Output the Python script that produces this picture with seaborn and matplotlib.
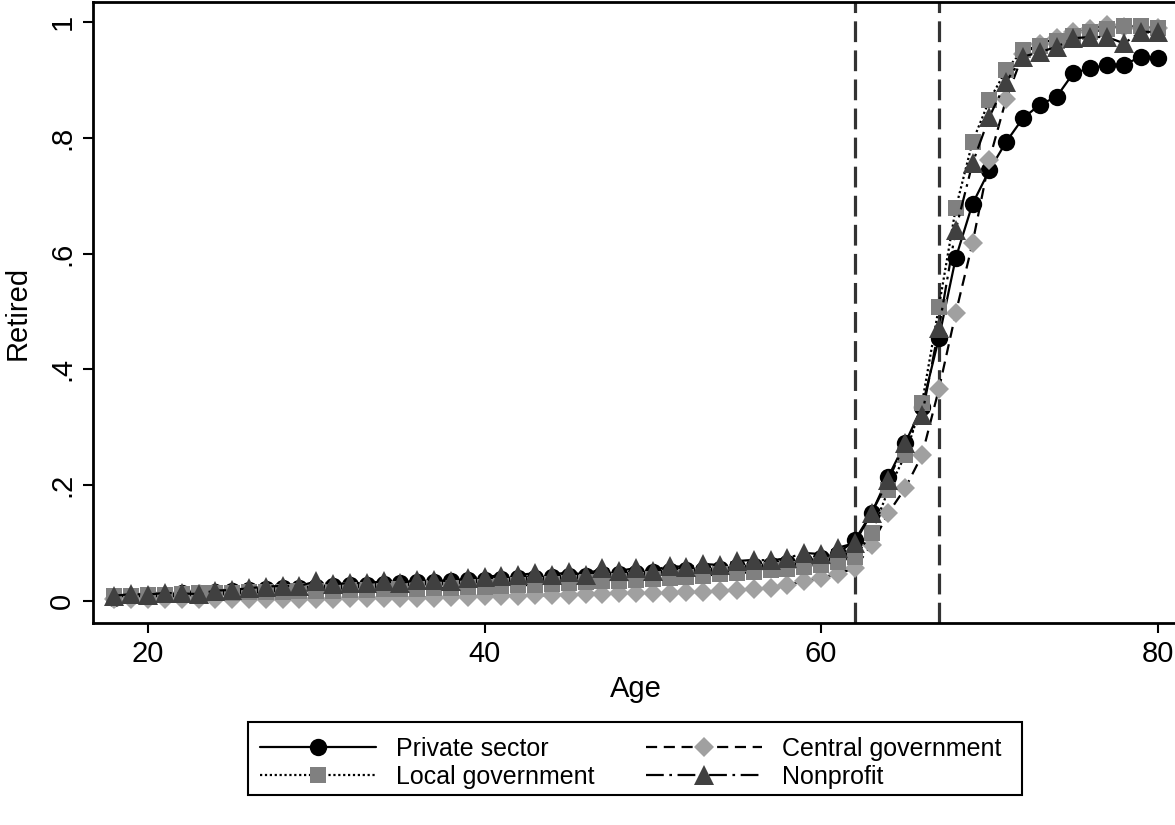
import numpy as np
import pandas as pd
import matplotlib
matplotlib.use("Agg")
import matplotlib.pyplot as plt
import seaborn as sns
from matplotlib.lines import Line2D
from matplotlib.patches import Rectangle

ages = list(range(18, 81))

private_sector = [
    .006, .008, .010, .011, .013, .014, .016, .017, .019, .020,
    .022, .023, .025, .026, .027, .028, .030, .031, .032, .033,
    .034, .036, .037, .038, .039, .040, .041, .043, .044, .046,
    .047, .048, .050, .051, .053, .054, .056, .058, .060, .062,
    .065, .069, .074, .082, .105, .152, .215, .273, .335, .454,
    .592, .686, .744, .793, .834, .857, .871, .912, .920, .926,
    .926, .940, .938]

central_government = [
    .004, .003, .004, .003, .003, .004, .003, .003, .004, .004,
    .004, .004, .004, .004, .005, .005, .005, .005, .006, .006,
    .007, .007, .008, .009, .009, .010, .010, .011, .012, .012,
    .013, .013, .014, .014, .015, .016, .017, .019, .020, .023,
    .028, .034, .040, .047, .057, .097, .152, .195, .252, .366,
    .497, .618, .762, .867, .945, .962, .972, .982, .988, .995,
    .992, .990, .990]

local_government = [
    .008, .009, .010, .011, .012, .013, .014, .014, .015, .016,
    .016, .017, .018, .018, .019, .019, .020, .021, .021, .022,
    .023, .024, .025, .026, .027, .028, .030, .031, .032, .034,
    .035, .037, .038, .040, .042, .044, .046, .048, .050, .053,
    .056, .059, .063, .068, .076, .117, .192, .252, .342, .508,
    .678, .793, .865, .917, .952, .958, .968, .975, .982, .988,
    .993, .993, .990]

nonprofit = [
    .009, .012, .011, .014, .013, .012, .018, .019, .022, .025,
    .026, .026, .034, .029, .031, .031, .034, .031, .036, .036,
    .034, .039, .042, .044, .045, .048, .045, .050, .045, .057,
    .052, .057, .052, .061, .058, .064, .062, .069, .071, .070,
    .074, .083, .081, .092, .100, .152, .209, .273, .321, .471,
    .641, .756, .836, .897, .940, .948, .957, .972, .974, .974,
    .963, .983, .983]

series_names = ["Private sector", "Central government", "Local government", "Nonprofit"]
series_values = [private_sector, central_government, local_government, nonprofit]
policy_ages = [62, 67]
x_ticks = [20, 40, 60, 80]
y_ticks = [0, .2, .4, .6, .8, 1]
y_tick_labels = ["0", ".2", ".4", ".6", ".8", "1"]

styles = {
    "Private sector": dict(color="#000000", marker="o", ms=12.5, ls="-"),
    "Central government": dict(color="#a0a0a0", marker="D", ms=10.5, ls=(0, (5, 3))),
    "Local government": dict(color="#808080", marker="s", ms=11, ls=(0, (1, 1.2))),
    "Nonprofit": dict(color="#404040", marker="^", ms=14.5, ls=(0, (8, 2.5, 1.2, 2.5))),
}

sns.set_theme(style="white")
plt.rcParams["font.family"] = ["Liberation Sans", "DejaVu Sans"]
plt.rcParams["text.color"] = "black"
plt.rcParams["axes.labelcolor"] = "black"
plt.rcParams["xtick.color"] = "black"
plt.rcParams["ytick.color"] = "black"

fig = plt.figure(figsize=(11.75, 8.25), dpi=100)
ax = fig.add_axes([93 / 1175, 1 - 623 / 825, (1179 - 93) / 1175, (623 - 2) / 825])

for a in policy_ages:
    ax.axvline(a, color="#333333", lw=2.3, ls=(0, (6.5, 2.6)), zorder=1)

handles = {}
for i, (name, vals) in enumerate(zip(series_names, series_values)):
    st = styles[name]
    df = pd.DataFrame({"Age": ages, "Retired": vals})
    sns.lineplot(data=df, x="Age", y="Retired", ax=ax, color="#000000",
                 lw=1.6, linestyle=st["ls"], marker=st["marker"],
                 markersize=st["ms"], markerfacecolor=st["color"],
                 markeredgewidth=0, zorder=2 + i)
    handles[name] = Line2D([], [], color="#000000", lw=1.6, linestyle=st["ls"],
                           marker=st["marker"], markersize=st["ms"],
                           markerfacecolor=st["color"], markeredgewidth=0)

ax.set_xlim(16.73, 81.27)
ax.set_ylim(-0.038, 1.0345)
ax.set_xticks(x_ticks)
ax.set_xticklabels([str(t) for t in x_ticks])
ax.set_yticks(y_ticks)
ax.set_yticklabels(y_tick_labels, rotation=90, va="center")
ax.tick_params(axis="both", direction="out", length=7, width=1.5, color="black",
               labelsize=21, pad=5, left=True, bottom=True, labelcolor="black")
ax.set_xlabel("Age", fontsize=21, labelpad=5, color="black")
ax.set_ylabel("Retired", fontsize=21, labelpad=12, color="black")
for s in ["left", "bottom", "top", "right"]:
    ax.spines[s].set_visible(True)
    ax.spines[s].set_color("black")
    ax.spines[s].set_linewidth(2)
ax.grid(False)

order = ["Private sector", "Local government", "Central government", "Nonprofit"]
leg = fig.legend([handles[n] for n in order], order, loc="center",
                 bbox_to_anchor=(630.5 / 1175, 1 - 763 / 825), ncol=2,
                 fontsize=18, handlelength=4.64, handletextpad=0.8,
                 columnspacing=2.08, labelspacing=0.15, borderpad=0.45,
                 frameon=False)
for t in leg.get_texts():
    t.set_color("black")

fig.patches.append(Rectangle((248 / 1175, 1 - 795 / 825), (1022 - 248) / 1175,
                             (795 - 722) / 825, transform=fig.transFigure,
                             fill=False, edgecolor="black", lw=1.5))

fig.savefig("out.png", dpi=100)
